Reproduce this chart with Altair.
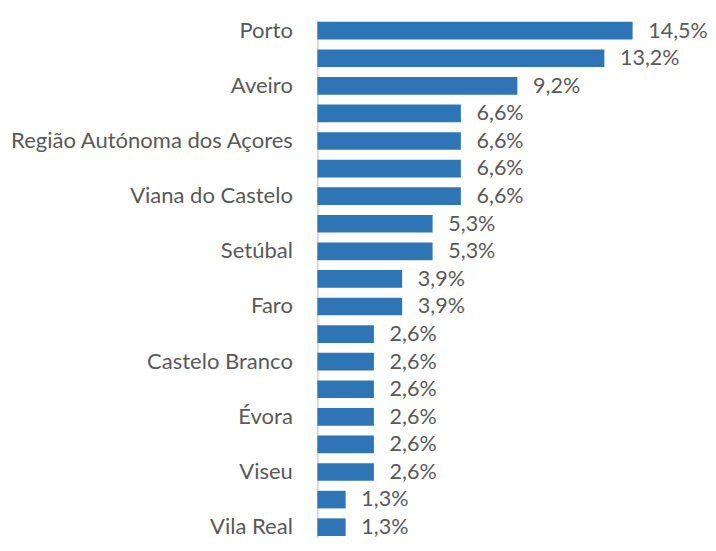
import altair as alt
import pandas as pd

names = ["Porto", "Lisboa", "Aveiro", "Braga", "Região Autónoma dos Açores", "Coimbra",
         "Viana do Castelo", "Leiria", "Setúbal", "Santarém", "Faro",
         "Região Autónoma da Madeira", "Castelo Branco", "Guarda", "Évora", "Bragança",
         "Viseu", "Beja", "Vila Real"]
values = [14.5, 13.2, 9.2, 6.6, 6.6, 6.6, 6.6, 5.3, 5.3, 3.9, 3.9, 2.6, 2.6, 2.6, 2.6, 2.6, 2.6, 1.3, 1.3]
shown = ["Porto", "Aveiro", "Região Autónoma dos Açores", "Viana do Castelo", "Setúbal",
         "Faro", "Castelo Branco", "Évora", "Viseu", "Vila Real"]

df = pd.DataFrame({"name": names, "value": values})
df["label"] = [f"{v:.1f}".replace(".", ",") + "%" for v in values]

FONT = "Lato"
GRAY = "#595959"
shown_js = "[" + ",".join("'" + s + "'" for s in shown) + "]"

y = alt.Y("name:N", sort=names, title=None,
          scale=alt.Scale(paddingInner=0.36, paddingOuter=0.05),
          axis=alt.Axis(labelExpr=f"indexof({shown_js}, datum.value) >= 0 ? datum.value : ''",
                        ticks=False, labelPadding=25.5, labelFont=FONT, labelFontSize=22.5,
                        labelLimit=400, labelColor=GRAY, domainColor="#D9D9D9", domainWidth=2,
                        grid=False))
x = alt.X("value:Q", axis=None, scale=alt.Scale(domain=[0, 14.5], nice=False, zero=True))

bars = alt.Chart(df).mark_bar(color="#2E75B6").encode(x=x, y=y)
text = alt.Chart(df).mark_text(align="left", baseline="middle", dx=16, font=FONT,
                               fontSize=22, color=GRAY).encode(x=x, y=y, text="label:N")

chart = (bars + text).properties(width=322, height=528,
                                 padding={"left": 0, "top": 5, "right": 0, "bottom": 0}
                                 ).configure_view(stroke=None)
chart.save("out.html", embed_options={"renderer": "svg", "actions": False})
